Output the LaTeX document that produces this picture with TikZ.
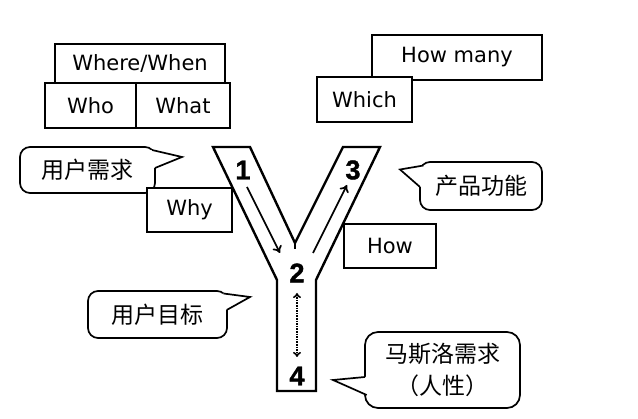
\documentclass[tikz,border=0pt]{standalone}
\usepackage{fontspec}
\setmainfont{DejaVu Sans}
\newfontfamily\cjk{Noto Sans CJK SC}
\newfontfamily\numfont[FakeBold=1.5]{Liberation Sans Bold}
\usetikzlibrary{arrows.meta}
\begin{document}
\begin{tikzpicture}[x=1pt,y=-1pt,
 box/.style={draw=black, line width=1.7pt, fill=white, inner sep=0pt, font=\fontsize{21}{25}\selectfont, text=black},
 bubble/.style={draw=black, line width=1.7pt, fill=white, rounded corners=10pt, inner sep=0pt, font=\cjk\fontsize{23}{31.5}\selectfont, align=center, text=black},
 tail/.style={line width=1.7pt, line join=miter},
 yshape/.style={draw=black, line width=2.4pt, fill=white, line join=miter},
 num/.style={font=\numfont\fontsize{27}{27}\selectfont, inner sep=0pt},
 flow/.style={line width=1.7pt, -{To[length=7pt,width=10pt,line width=1.7pt]}},
 dflow/.style={line width=1.6pt, densely dotted, {To[length=5pt,width=8pt]}-{To[length=5pt,width=8pt]}},
]
\useasboundingbox (0,0) rectangle (638,419);

% left question boxes
\node[box, minimum width=170pt, minimum height=39pt] (wherewhen) at (140,63.5) {Where/When};
\node[box, minimum width=91pt, minimum height=45pt] (who) at (90.5,105.5) {Who};
\node[box, minimum width=94pt, minimum height=45pt] (what) at (183,105.5) {What};

% callout: user needs
\node[bubble, minimum width=135pt, minimum height=46pt] (need) at (87.5,170) {用户需求};
\fill[white] (148,151) -- (152,150) -- (182,157) -- (155,168) -- (150,168) -- cycle;
\draw[tail] (152,150) -- (182,157) -- (155,168);

\node[box, minimum width=85pt, minimum height=44pt] (why) at (189.5,210) {Why};

% right question boxes
\node[box, minimum width=170pt, minimum height=45pt] (howmany) at (457,57.5) {How many};
\node[box, minimum width=95pt, minimum height=45pt] (which) at (364.5,99.5) {Which};
\node[box, minimum width=92pt, minimum height=44pt] (how) at (390,246) {How};

% callout: product functions
\node[bubble, minimum width=122pt, minimum height=48pt] (func) at (481,186) {产品功能};
\fill[white] (423.5,165.5) -- (400,169.5) -- (420,187) -- (425,187) -- (426,166) -- cycle;
\draw[tail] (423.5,165.5) -- (400,169.5) -- (420,187);

% callout: user goals
\node[bubble, minimum width=139pt, minimum height=47pt] (goal) at (157.5,314.5) {用户目标};
\fill[white] (221,294.5) -- (223.5,293.5) -- (250,297) -- (226.7,310) -- (223,310) -- cycle;
\draw[tail] (223.5,293.5) -- (250,297) -- (226.7,310);

% callout: Maslow
\node[bubble, rounded corners=13pt, minimum width=155pt, minimum height=76pt] (maslow) at (442.5,370) {马斯洛需求\\（人性）};
\fill[white] (365,377) -- (333,380) -- (366.7,395) -- (369,395) -- (369,377) -- cycle;
\draw[tail] (365,377) -- (333,380) -- (366.7,395);

% the Y
\draw[yshape] (213,147) -- (250,147) -- (295,243) -- (343,147) -- (380,147)
  -- (316,280) -- (316,391) -- (277,391) -- (277,280) -- cycle;
\draw[line width=1.7pt] (295,243) -- (295,249);

\node[num] (n1) at (243,170) {1};
\node[num] (n3) at (353,170) {3};
\node[num] (n2) at (297,273) {2};
\node[num] (n4) at (297,376) {4};

\coordinate (a1s) at (247,187);
\coordinate (a1e) at (280,253);
\coordinate (a3s) at (313,253);
\coordinate (a3e) at (347,185);
\coordinate (d2) at (297,293);
\coordinate (d4) at (297,357);
\draw[flow] (a1s) -- (a1e);
\draw[flow] (a3s) -- (a3e);
\draw[dflow] (d2) -- (d4);
\end{tikzpicture}
\end{document}
